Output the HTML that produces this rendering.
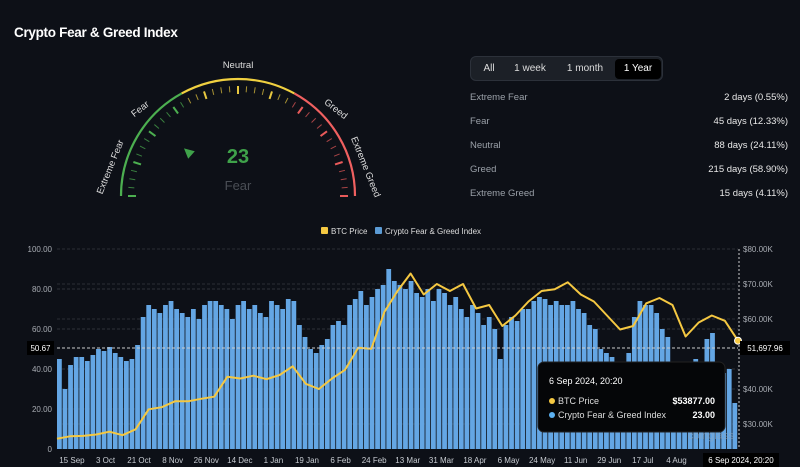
<!DOCTYPE html>
<html><head><meta charset="utf-8"><style>
body{margin:0;width:800px;height:467px;background:#0d1017;overflow:hidden;font-family:"Liberation Sans",sans-serif;color:#ddd}
#t{position:absolute;left:14px;top:25px;font-size:13.5px;font-weight:bold;color:#fff;letter-spacing:-0.3px}
.tabs{position:absolute;left:470px;top:56px;width:193px;height:25px;background:#1c2027;border:1px solid #2c313a;border-radius:6px;box-sizing:border-box}
.tab{position:absolute;top:2px;height:20px;line-height:20px;font-size:10px;color:#ddd;text-align:center}
.tab.on{background:#000;color:#fff;border-radius:4px}
.row{position:absolute;left:470px;width:318px;font-size:9.5px;color:#9aa0a8}
.row span{position:absolute;right:0;color:#e8e8e8}
</style></head><body>
<div id="t">Crypto Fear &amp; Greed Index</div>
<div class="tabs">
<div class="tab" style="left:6px;width:24px">All</div>
<div class="tab" style="left:38px;width:42px">1 week</div>
<div class="tab" style="left:88px;width:52px">1 month</div>
<div class="tab on" style="left:144px;width:46px">1 Year</div>
</div>
<div class="row" style="top:92px">Extreme Fear<span>2 days (0.55%)</span></div>
<div class="row" style="top:116px">Fear<span>45 days (12.33%)</span></div>
<div class="row" style="top:140px">Neutral<span>88 days (24.11%)</span></div>
<div class="row" style="top:164px">Greed<span>215 days (58.90%)</span></div>
<div class="row" style="top:188px">Extreme Greed<span>15 days (4.11%)</span></div>

<svg id="g" width="800" height="467" style="position:absolute;left:0;top:0" font-family="Liberation Sans, sans-serif">
<g id="gauge"></g>
<g id="chart"></g>
</svg>
<script>
const fgValues=[45,30,42,46,46,44,47,50,49,51,48,46,44,45,52,66,72,70,68,72,74,70,68,66,70,65,72,74,74,72,70,65,72,74,70,72,68,66,74,72,70,75,74,62,56,50,48,52,55,62,64,62,72,75,79,72,76,80,82,90,84,82,80,84,78,76,80,74,80,78,72,76,70,66,72,68,62,66,60,45,62,66,64,70,70,74,76,75,72,74,72,72,74,70,68,62,60,50,48,46,30,28,48,66,74,72,72,68,60,56,30,17,34,40,45,38,55,58,42,38,40,23];
const btcPrice=[25.8,26.5,26.6,27,27.8,26.8,28.5,34.2,34.8,36.5,36.5,37.2,37.8,43.5,43,43.8,42.8,44,46.5,41.5,40,43,45.5,51.8,51.5,62,68,73,67,70,68,70,63,64,58,61,65,68,68.5,70.5,67,65,61,57,58,64.5,66,64,55,59,61,59.5,53.8];
const leftTicks=[0,20,40,60,80,100];
const rightTicks=[30,40,60,70,80];
const xLabels=["15 Sep","3 Oct","21 Oct","8 Nov","26 Nov","14 Dec","1 Jan","19 Jan","6 Feb","24 Feb","13 Mar","31 Mar","18 Apr","6 May","24 May","11 Jun","29 Jun","17 Jul","4 Aug","2"];
const xLabelDays=[8,26,44,62,80,98,116,134,152,170,188,206,224,242,260,278,296,314,332,350];
const gaugeValue=23;
const NS="http://www.w3.org/2000/svg";
function mk(p,tag,a){const e=document.createElementNS(NS,tag);for(const k in a)e.setAttribute(k,a[k]);p.appendChild(e);return e;}
const X0=57,X1=738,Y0=449,Y1=249;
const xDay=d=>X0+(X1-X0)*d/365;
const yL=v=>Y0-(Y0-Y1)*v/100;
const yR=k=>249+(80-k)*3.5;
const C=document.getElementById('chart');
leftTicks.forEach(v=>{if(v>0){const l=mk(C,'line',{x1:X0,x2:X1,y1:yL(v),y2:yL(v),stroke:'#2e323a','stroke-dasharray':'3,2'});}
const t=mk(C,'text',{x:52,y:yL(v)+3,'text-anchor':'end','font-size':8,fill:'#a8acb3'});t.textContent=v===0?'0':v.toFixed(2);});
rightTicks.forEach(k=>{const l=mk(C,'line',{x1:X0,x2:X1,y1:yR(k),y2:yR(k),stroke:'#2a2e36','stroke-dasharray':'3,2'});
const t=mk(C,'text',{x:743,y:yR(k)+3,'font-size':8,fill:'#a8acb3'});t.textContent='$'+k.toFixed(2)+'K';});
const bw=(X1-X0)/fgValues.length;
fgValues.forEach((v,i)=>{const b=mk(C,'rect',{x:X0+i*bw,y:yL(v),width:bw-0.8,height:Y0-yL(v),fill:'#64a6e4'});
});
const pd=btcPrice.map((p,i)=>(i?'L':'M')+xDay(i*365/(btcPrice.length-1)).toFixed(1)+','+yR(p).toFixed(1)).join('');
const ln=mk(C,'path',{d:pd,fill:'none',stroke:'#f5c842','stroke-width':2,'stroke-linejoin':'round'});

mk(C,'line',{x1:X0,x2:X1,y1:348,y2:348,stroke:'#ccc','stroke-dasharray':'3,2'});
mk(C,'line',{x1:739,x2:739,y1:249,y2:449,stroke:'#ccc','stroke-dasharray':'2,2'});
const dot=mk(C,'circle',{cx:xDay(365),cy:yR(btcPrice[btcPrice.length-1]),r:3.5,fill:'#f5c842',stroke:'#fff','stroke-width':1});

xLabels.forEach((s,i)=>{const t=mk(C,'text',{x:xDay(xLabelDays[i]),y:463,'text-anchor':'middle','font-size':8,fill:'#c8ccd2'});t.textContent=s;});
function badge(x,y,w,txt,name){const g=mk(C,'g',{});
mk(g,'rect',{x:x,y:y,width:w,height:14,fill:'#000'});const t=mk(g,'text',{x:x+w/2,y:y+10,'text-anchor':'middle','font-size':8,fill:'#fff'});t.textContent=txt;}
badge(27,341,27,'50.67','left-crosshair-label');
badge(740,341,50,'51,697.96','right-crosshair-label');
badge(703,453,76,'6 Sep 2024, 20:20','x-crosshair-label');
const lg=mk(C,'g',{});
mk(lg,'rect',{x:321,y:227,width:7,height:7,fill:'#f5c842',rx:1});
let t=mk(lg,'text',{x:331,y:234,'font-size':8,fill:'#ddd'});t.textContent='BTC Price';
mk(lg,'rect',{x:375,y:227,width:7,height:7,fill:'#5b9bd5',rx:1});
t=mk(lg,'text',{x:385,y:234,'font-size':8,fill:'#ddd'});t.textContent='Crypto Fear & Greed Index';
t=mk(C,'text',{x:688,y:439,'font-size':11,fill:'#8ea6bf','opacity':0.6});t.textContent='coinglass';
const tp=mk(C,'g',{});
mk(tp,'rect',{x:538,y:362,width:187,height:70,rx:6,fill:'#050608',stroke:'#222'});
t=mk(tp,'text',{x:549,y:384,'font-size':9,fill:'#fff'});t.textContent='6 Sep 2024, 20:20';
mk(tp,'circle',{cx:552,cy:401,r:3,fill:'#f5c842'});
t=mk(tp,'text',{x:558,y:404,'font-size':9,fill:'#ddd'});t.textContent='BTC Price';
t=mk(tp,'text',{x:715,y:404,'font-size':9,fill:'#fff','text-anchor':'end','font-weight':'bold'});t.textContent='$53877.00';
mk(tp,'circle',{cx:552,cy:415,r:3,fill:'#5bb0f0'});
t=mk(tp,'text',{x:558,y:418,'font-size':9,fill:'#ddd'});t.textContent='Crypto Fear & Greed Index';
t=mk(tp,'text',{x:715,y:418,'font-size':9,fill:'#fff','text-anchor':'end','font-weight':'bold'});t.textContent='23.00';

const G=document.getElementById('gauge');
const cx=238,cy=196,R=117;
const pt=(v,r)=>{const a=Math.PI*(1-v/100);return [cx+r*Math.cos(a),cy-r*Math.sin(a)];};
function arc(v0,v1,col){const a=pt(v0,R),b=pt(v1,R);const p=mk(G,'path',{d:`M${a[0]},${a[1]}A${R},${R} 0 0 1 ${b[0]},${b[1]}`,fill:'none',stroke:col,'stroke-width':2.2});}
arc(0,34,'#4caf50');arc(34,66,'#f0d040');arc(66,100,'#f06060');
for(let v=0;v<=100;v+=2.5){const major=v%10===0;const col=v<=34?'#4caf50':v<=66?'#e8c840':'#e85a5a';
const a=pt(v,major?102:104),b=pt(v,110);const l=mk(G,'line',{x1:a[0],y1:a[1],x2:b[0],y2:b[1],stroke:col,'stroke-width':major?2:1,opacity:major?1:0.7});}
[['Extreme Fear',7,-68],['Fear',23,-38],['Neutral',50,0],['Greed',77,38],['Extreme Greed',93,68]].forEach(([s,v,rot])=>{const p=pt(v,128);const tx=mk(G,'text',{x:p[0],y:p[1],'text-anchor':'middle','font-size':9.5,fill:'#ddd',transform:`rotate(${rot} ${p[0]} ${p[1]})`});tx.textContent=s;});
const na=Math.PI*(1-gaugeValue/100);
const tip=pt(gaugeValue,72),bl=[cx+62*Math.cos(na)+5*Math.sin(na),cy-62*Math.sin(na)+5*Math.cos(na)],br=[cx+62*Math.cos(na)-5*Math.sin(na),cy-62*Math.sin(na)-5*Math.cos(na)];
const nd=mk(G,'polygon',{points:`${tip[0]},${tip[1]} ${bl[0]},${bl[1]} ${br[0]},${br[1]}`,fill:'#3fa24a'});
t=mk(G,'text',{x:cx,y:163,'text-anchor':'middle','font-size':20,'font-weight':'bold',fill:'#3fa24a'});t.textContent=gaugeValue;
t=mk(G,'text',{x:cx,y:190,'text-anchor':'middle','font-size':13,fill:'#4a4e55'});t.textContent='Fear';
</script>
</body></html>
